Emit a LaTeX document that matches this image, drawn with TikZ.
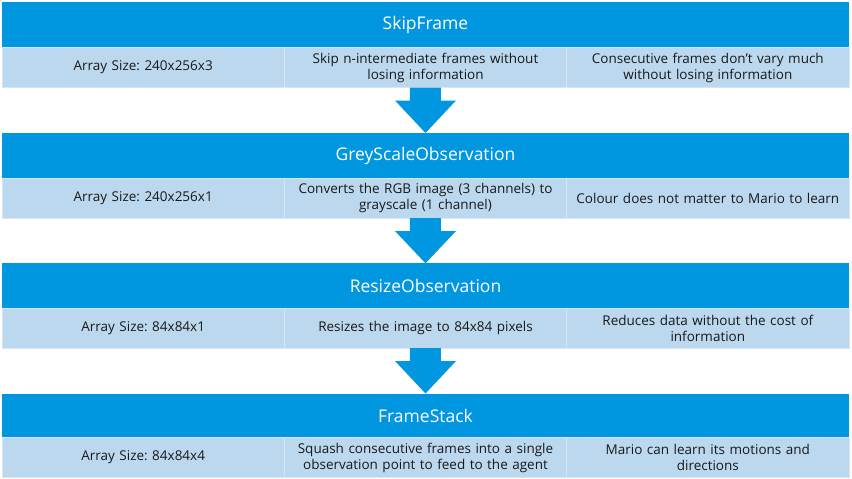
\documentclass[tikz,border=0pt]{standalone}
\usepackage{fontspec}
\setmainfont{Open Sans}
\usetikzlibrary{calc}
\definecolor{hdr}{RGB}{0,150,224}
\definecolor{cellc}{RGB}{187,216,238}
\definecolor{celll}{RGB}{214,230,244}
\definecolor{txt}{RGB}{25,25,25}
\begin{document}
\frenchspacing
\begin{tikzpicture}[x=1pt,y=-1pt,
 hdrbox/.style={fill=hdr, text=white, minimum width=847pt, minimum height=45pt, anchor=north west, inner sep=0pt, outer sep=0pt, font=\fontsize{17.5}{20}\selectfont},
 cellbox/.style={fill=cellc, draw=celll, line width=1pt, text=txt, minimum width=282.33pt, minimum height=40pt, text width=276pt, align=center, anchor=north west, inner sep=0pt, outer sep=0pt, font=\fontsize{13.5}{16}\selectfont},
 flowarrow/.style={fill=hdr}]
\fill[white] (0,0) rectangle (852,479);
\useasboundingbox (0,0) rectangle (852,479);
% block 1
\node[hdrbox] (h1) at (2,2) {SkipFrame};
\node[cellbox] (c11) at (2,47.5) {Array Size: 240x256x3};
\node[cellbox] (c12) at (284.33,47.5) {Skip n-intermediate frames without\\losing information};
\node[cellbox] (c13) at (566.67,47.5) {Consecutive frames don’t vary much\\without losing information};
% block 2
\node[hdrbox] (h2) at (2,133) {GreyScaleObservation};
\node[cellbox] (c21) at (2,178) {Array Size: 240x256x1};
\node[cellbox] (c22) at (284.33,178) {Converts the RGB image (3 channels) to\\grayscale (1 channel)};
\node[cellbox] (c23) at (566.67,178) {Colour does not matter to Mario to learn};
% block 3
\node[hdrbox] (h3) at (2,263.3) {ResizeObservation};
\node[cellbox] (c31) at (2,308) {Array Size: 84x84x1};
\node[cellbox] (c32) at (284.33,308) {Resizes the image to 84x84 pixels};
\node[cellbox] (c33) at (566.67,308) {Reduces data without the cost of\\information};
% block 4
\node[hdrbox] (h4) at (2,393.5) {FrameStack};
\node[cellbox] (c41) at (2,437.5) {Array Size: 84x84x4};
\node[cellbox] (c42) at (284.33,437.5) {Squash consecutive frames into a single\\observation point to feed to the agent};
\node[cellbox] (c43) at (566.67,437.5) {Mario can learn its motions and\\directions};
% arrows
\foreach \r/\h in {c12/h2, c22/h3, c32/h4}{
  \fill[flowarrow] ($(\r.south)+(-15.5,0)$) -- ++(0,13) -- ++(-15,0) -- (\h.north)
     -- ($(\r.south)+(30.5,13)$) -- ++(-15,0) -- ($(\r.south)+(15.5,0)$) -- cycle;
}
\end{tikzpicture}
\end{document}
